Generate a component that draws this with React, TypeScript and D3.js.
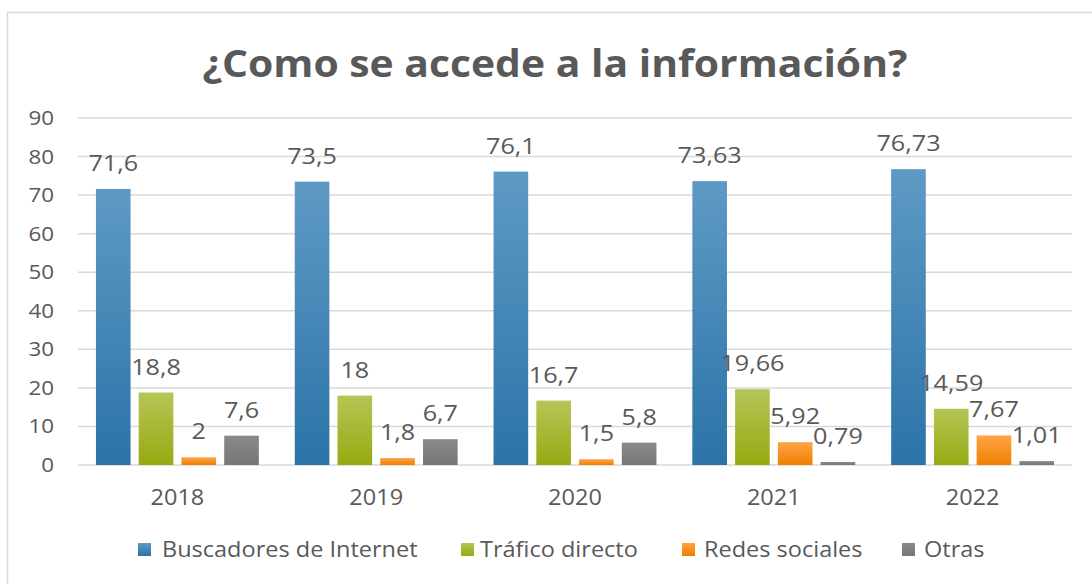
import React from "react";
import * as d3 from "d3";

const years = ["2018", "2019", "2020", "2021", "2022"];
const seriesNames = ["Buscadores de Internet", "Tráfico directo", "Redes sociales", "Otras"];
const buscadores = [71.6, 73.5, 76.1, 73.63, 76.73];
const trafico = [18.8, 18, 16.7, 19.66, 14.59];
const redes = [2, 1.8, 1.5, 5.92, 7.67];
const otras = [7.6, 6.7, 5.8, 0.79, 1.01];
const labelsBuscadores = ["71,6", "73,5", "76,1", "73,63", "76,73"];
const labelsTrafico = ["18,8", "18", "16,7", "19,66", "14,59"];
const labelsRedes = ["2", "1,8", "1,5", "5,92", "7,67"];
const labelsOtras = ["7,6", "6,7", "5,8", "0,79", "1,01"];
const yTicks = [0, 10, 20, 30, 40, 50, 60, 70, 80, 90];

const W = 1092;
const H = 584;
const left = 78;
const right = 1072;
const top = 118;
const bottom = 465;

const gradients = [
  { id: "g0", top: "#5e9ac4", bot: "#2b73a8" },
  { id: "g1", top: "#b6c556", bot: "#96aa12" },
  { id: "g2", top: "#ffa447", bot: "#f07f00" },
  { id: "g3", top: "#8a8a8a", bot: "#767676" },
];

const textColor = "#595959";

function SText(props: {
  x: number;
  y: number;
  sx: number;
  size: number;
  anchor?: string;
  weight?: number;
  children: React.ReactNode;
}) {
  const { x, y, sx, size, anchor, weight, children } = props;
  return (
    <g transform={`translate(${x},${y}) scale(${sx},1)`}>
      <text
        x={0}
        y={0}
        textAnchor={anchor || "start"}
        fontSize={size}
        fontWeight={weight || 400}
        fill={textColor}
      >
        {children}
      </text>
    </g>
  );
}

export default function App() {
  const series = [buscadores, trafico, redes, otras];
  const labels = [labelsBuscadores, labelsTrafico, labelsRedes, labelsOtras];
  const x0 = d3.scaleBand<string>().domain(years).range([left, right]).padding(0);
  const x1 = d3
    .scaleBand<number>()
    .domain([0, 1, 2, 3])
    .range([0, x0.bandwidth()])
    .paddingInner(0.19)
    .paddingOuter(0.42);
  const y = d3.scaleLinear().domain([0, 90]).range([bottom, top]);
  const font = "'Open Sans', 'Noto Sans', sans-serif";

  const legendItems = [
    { sq: 138, tx: 162 },
    { sq: 461, tx: 480 },
    { sq: 682, tx: 704 },
    { sq: 902, tx: 924 },
  ];

  return (
    <svg
      width={W}
      height={H}
      style={{ position: "absolute", left: 0, top: 0, background: "#fff" }}
      fontFamily={font}
    >
      <defs>
        {gradients.map((g) => (
          <linearGradient key={g.id} id={g.id} x1="0" y1="0" x2="0" y2="1">
            <stop offset="0%" stopColor={g.top} />
            <stop offset="100%" stopColor={g.bot} />
          </linearGradient>
        ))}
      </defs>
      <rect x={7.5} y={12.5} width={W} height={H} fill="#fff" stroke="#d9d9d9" strokeWidth={1.5} />
      <SText x={555} y={77} sx={1.075} size={38} anchor="middle" weight={700}>
        ¿Como se accede a la información?
      </SText>
      {yTicks.map((t) => (
        <g key={t}>
          <line x1={left} x2={right} y1={y(t)} y2={y(t)} stroke="#d9d9d9" strokeWidth={1.5} />
          <SText x={54} y={y(t) + 7} sx={1.12} size={20} anchor="end">
            {t}
          </SText>
        </g>
      ))}
      {years.map((yr, i) => (
        <g key={yr}>
          {series.map((s, k) => {
            const bx = (x0(yr) as number) + (x1(k) as number);
            const bw = x1.bandwidth();
            return (
              <g key={k}>
                <rect
                  x={bx}
                  y={y(s[i])}
                  width={bw}
                  height={y(0) - y(s[i])}
                  fill={`url(#${gradients[k].id})`}
                />
                <SText x={bx + bw / 2} y={y(s[i]) - 18} sx={1.12} size={22.5} anchor="middle">
                  {labels[k][i]}
                </SText>
              </g>
            );
          })}
          <SText
            x={(x0(yr) as number) + x0.bandwidth() / 2}
            y={505}
            sx={1.12}
            size={21}
            anchor="middle"
          >
            {yr}
          </SText>
        </g>
      ))}
      {seriesNames.map((n, k) => (
        <g key={n}>
          <rect x={legendItems[k].sq} y={543} width={13} height={13} fill={`url(#${gradients[k].id})`} />
          <SText x={legendItems[k].tx} y={557} sx={1.12} size={21}>
            {n}
          </SText>
        </g>
      ))}
    </svg>
  );
}
